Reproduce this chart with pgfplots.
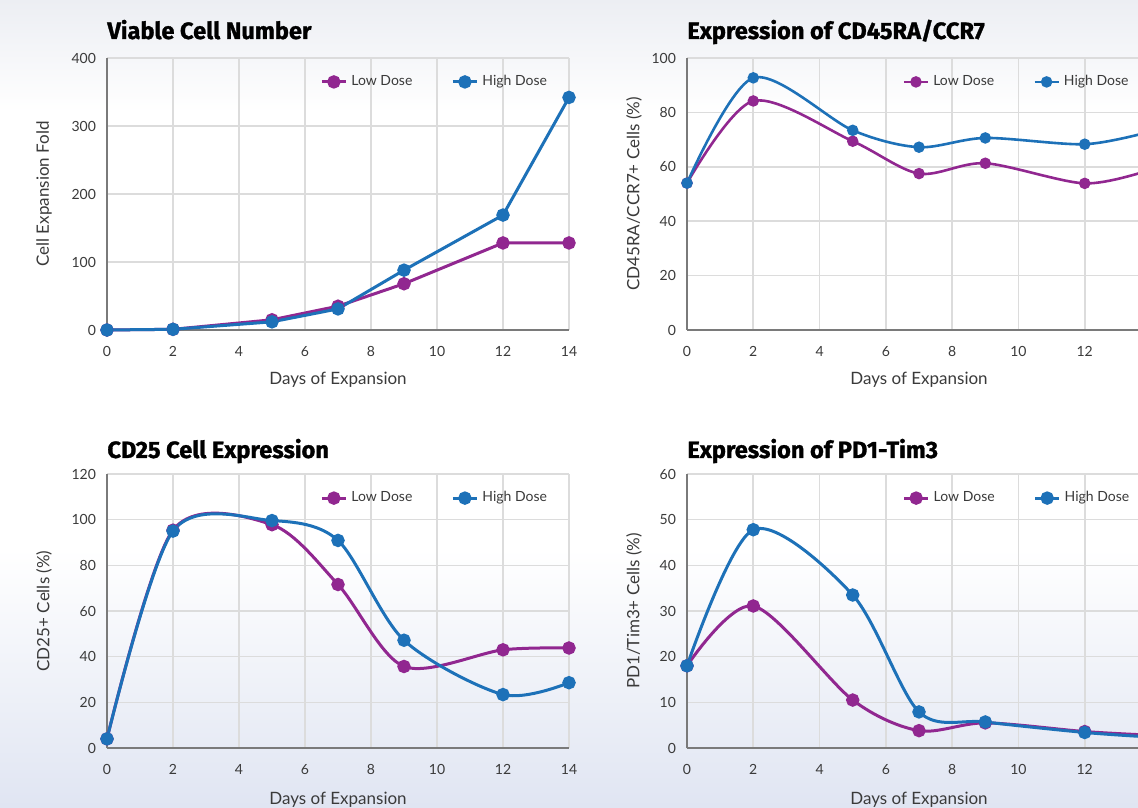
\documentclass[border=0pt]{standalone}
\usepackage{fontspec}
\setmainfont{Lato}
\newfontfamily\titlefont{Fira Sans}[BoldFeatures={FakeBold=1.2}]
\usepackage{pgfplots}
\pgfplotsset{compat=1.18}
\definecolor{lowdose}{HTML}{912790}
\definecolor{highdose}{HTML}{1D71B8}
\definecolor{gridgrey}{HTML}{DCDCDC}
\definecolor{axisgrey}{HTML}{7A7A7A}
\definecolor{txtgrey}{HTML}{3A3A3A}
\definecolor{bgbot}{HTML}{E0E5F2}
\definecolor{bgtop}{HTML}{ECEEF3}
\pgfdeclareverticalshading{pagebg}{100bp}{color(0bp)=(bgbot); color(25bp)=(bgbot); color(41bp)=(white); color(68bp)=(white); color(75bp)=(bgtop); color(100bp)=(bgtop)}

\pgfplotsset{
 panel/.style={
  scale only axis, clip=false,
  xmin=0,xmax=14,xtick={0,2,...,14},
  axis x line*=bottom, axis y line*=left,
  axis line style={axisgrey,line width=0.7pt,-},
  grid=major, major grid style={gridgrey,line width=0.8pt},
  major tick length=0pt,
  tick label style={font=\fontsize{7}{9}\selectfont,text=txtgrey},
  /pgf/number format/assume math mode=true,
  xticklabel style={yshift=-4.5pt},
  yticklabel style={xshift=-2pt},
  label style={font=\fontsize{8.5}{10}\selectfont,text=txtgrey},
  xlabel={Days of Expansion},
  xlabel style={at={(axis description cs:0.5,0)},anchor=center,yshift=-25pt},
  ylabel style={at={(axis description cs:0,0.5)},anchor=center},
  title style={at={(axis description cs:0,1)},anchor=base west,inner xsep=0pt,font=\titlefont\bfseries\fontsize{11.8}{14}\selectfont},
  legend columns=2,
  legend style={draw=none,fill=none,font=\fontsize{7}{9}\selectfont,text=txtgrey,anchor=west,
    /tikz/every even column/.append style={column sep=17.5pt}},
  legend image code/.code={\draw[mark repeat=2,mark phase=2,##1] plot coordinates {(0pt,0pt)(6pt,0pt)(12pt,0pt)};},
  every axis plot/.append style={line width=1.5pt, mark=*, mark size=2.6pt},
 },
 lowstyle/.style={lowdose,mark options={fill=lowdose,draw=lowdose}},
 highstyle/.style={highdose,mark options={fill=highdose,draw=highdose}},
}

\begin{document}
\begin{tikzpicture}
\shade[shading=pagebg] (0,0) rectangle (569pt,403.5pt);

% top left
\begin{axis}[panel, at={(53.5pt,238.5pt)}, anchor=south west, width=231pt, height=136pt,
  ymin=0,ymax=400,ytick={0,100,...,400},
  ylabel={Cell Expansion Fold}, ylabel style={yshift=31.5pt},
  title={Viable Cell Number}, title style={yshift=3.5pt},
  legend style={at={(axis description cs:0.448,0.912)}}]
\addplot[lowstyle] coordinates {(0,0)(2,1)(5,15)(7,35)(9,68)(12,128)(14,128)};
\addlegendentry{Low Dose}
\addplot[highstyle] coordinates {(0,0)(2,1)(5,12)(7,31)(9,88)(12,169)(14,342)};
\addlegendentry{High Dose}
\end{axis}

% top right
\begin{axis}[panel, at={(343.5pt,238.5pt)}, anchor=south west, width=232pt, height=136pt,
  ymin=0,ymax=100,ytick={0,20,...,100}, xtick={0,2,...,12},
  ylabel={CD45RA/CCR7+ Cells (\%)}, ylabel style={yshift=26.5pt},
  title={Expression of CD45RA/CCR7}, title style={yshift=3.5pt},
  legend style={at={(axis description cs:0.451,0.912)}},
  every axis plot/.append style={line width=1.3pt, mark size=2.2pt}]
\addplot[lowstyle,smooth,tension=0.5] coordinates {(0,54)(2,84.2)(5,69.4)(7,57.5)(9,61.3)(12,53.9)(14,59)};
\addlegendentry{Low Dose}
\addplot[highstyle,smooth,tension=0.5] coordinates {(0,54)(2,92.7)(5,73.4)(7,67.2)(9,70.6)(12,68.3)(14,73)};
\addlegendentry{High Dose}
\end{axis}

% bottom left
\begin{axis}[panel, at={(53.5pt,29.5pt)}, anchor=south west, width=231pt, height=137pt,
  ymin=0,ymax=120,ytick={0,20,...,120},
  xlabel style={yshift=-1pt},
  ylabel={CD25+ Cells (\%)}, ylabel style={yshift=31.5pt},
  title={CD25 Cell Expression}, title style={yshift=2pt},
  legend style={at={(axis description cs:0.448,0.912)}}]
\addplot[lowstyle,smooth,tension=0.5] coordinates {(0,4)(2,95.4)(5,97.8)(7,71.6)(9,35.7)(12,43)(14,43.8)};
\addlegendentry{Low Dose}
\addplot[highstyle,smooth,tension=0.5] coordinates {(0,4)(2,95)(5,99.6)(7,90.9)(9,47.2)(12,23.4)(14,28.6)};
\addlegendentry{High Dose}
\end{axis}

% bottom right
\begin{axis}[panel, at={(343.5pt,29.5pt)}, anchor=south west, width=232pt, height=137pt,
  ymin=0,ymax=60,ytick={0,10,...,60}, xtick={0,2,...,12},
  xlabel style={yshift=-1pt},
  ylabel={PD1/Tim3+ Cells (\%)}, ylabel style={yshift=26.5pt},
  title={Expression of PD1-Tim3}, title style={yshift=2pt},
  legend style={at={(axis description cs:0.451,0.912)}}]
\addplot[lowstyle,smooth,tension=0.5] coordinates {(0,18)(2,31.1)(5,10.5)(7,3.8)(9,5.5)(12,3.6)(14,2.8)};
\addlegendentry{Low Dose}
\addplot[highstyle,smooth,tension=0.5] coordinates {(0,18)(2,47.8)(5,33.5)(7,7.9)(9,5.7)(12,3.4)(14,2.4)};
\addlegendentry{High Dose}
\end{axis}

\pgfresetboundingbox
\path[use as bounding box] (0,0) rectangle (569pt,403.5pt);
\end{tikzpicture}
\end{document}
